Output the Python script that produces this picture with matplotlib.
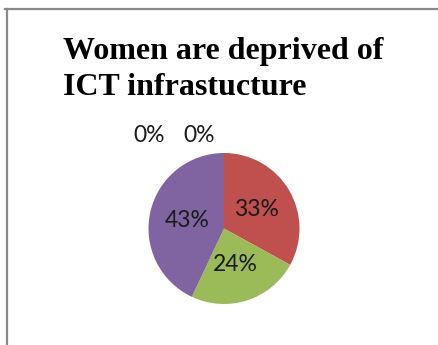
import matplotlib.pyplot as plt
from matplotlib.lines import Line2D

# Datos del gráfico
categorias = ['B', 'C', 'D', 'E', 'A']
valores = [33, 24, 43, 0, 0]
colores = ['#C0504D', '#9BBB59', '#8064A2', '#4BACC6', '#4F81BD']
titulo = 'Women are deprived of\nICT infrastucture'

W, H = 438, 345
fig = plt.figure(figsize=(W / 100, H / 100), dpi=100)
ax = fig.add_axes([0, 0, 1, 1])

# Marco del área del gráfico (solo borde superior e izquierdo visibles)
fig.add_artist(Line2D([5 / W, 1], [1 - 9 / H, 1 - 9 / H], color='#8a8a8a', lw=1.6,
                      transform=fig.transFigure))
fig.add_artist(Line2D([6.5 / W, 6.5 / W], [0, 1 - 9 / H], color='#8a8a8a', lw=1.6,
                      transform=fig.transFigure))

wedges, textos, pcts = ax.pie(valores, colors=colores, startangle=90, counterclock=False,
                              center=(224, H - 228.5), radius=75.5, autopct='%1.0f%%',
                              pctdistance=0.5, wedgeprops=dict(linewidth=0),
                              textprops=dict(family='Lato', fontsize=16.5,
                                             color='#1a1a1a'))
ax.set_xlim(0, W)
ax.set_ylim(0, H)
ax.set_aspect('equal')
ax.axis('off')

# Etiquetas de los sectores vacíos, fuera del pastel
posiciones_cero = [(199, H - 135.5), (149, H - 135.5)]
for t, v in zip(pcts, valores):
    if v == 0:
        t.set_position(posiciones_cero.pop(0))

fig.text(63 / W, 1 - 37 / H, titulo, ha='left', va='top', family='Liberation Serif',
         fontweight='bold', fontsize=23, linespacing=1.3)

fig.savefig('out.png', dpi=100)
